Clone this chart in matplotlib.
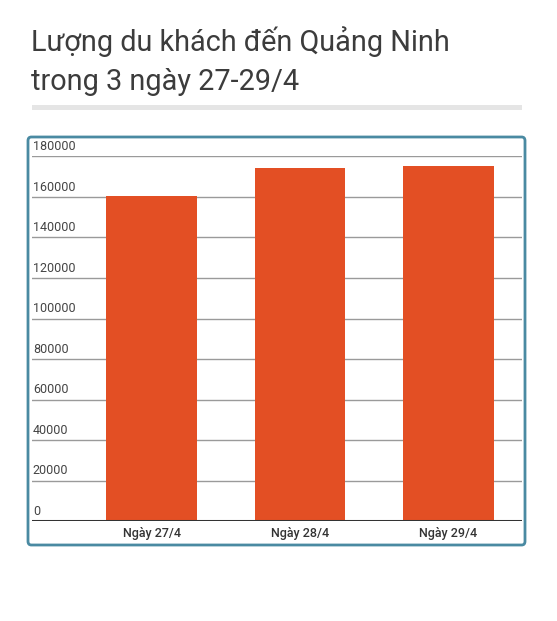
import matplotlib
matplotlib.use("Agg")
import matplotlib.pyplot as plt
from matplotlib.patches import FancyBboxPatch, Rectangle

# data
categories = ["Ngày 27/4", "Ngày 28/4", "Ngày 29/4"]
visitors = [160300, 174000, 175100]
y_ticks = [0, 20000, 40000, 60000, 80000, 100000, 120000, 140000, 160000, 180000]
title_lines = ["Lượng du khách đến Quảng Ninh", "trong 3 ngày 27-29/4"]

W, H = 557, 621
fig = plt.figure(figsize=(W / 100, H / 100), dpi=100)
fig.patch.set_facecolor("white")


def fx(px):
    return px / W


def fy(py):
    return 1 - py / H


# title
for line, base in zip(title_lines, [51, 90]):
    fig.text(fx(31), fy(base), line, fontsize=20.8, family="Roboto",
             fontweight="normal", color="#3c3c3c", va="baseline")

# grey rule under the title
fig.patches.append(Rectangle((fx(32), fy(110)), fx(522) - fx(32), fy(105) - fy(110),
                             transform=fig.transFigure, facecolor="#e5e5e5",
                             edgecolor="none"))

# rounded frame around the chart
fig.patches.append(FancyBboxPatch((fx(28), fy(545)), fx(525) - fx(28), fy(137) - fy(545),
                                  boxstyle="round,pad=0,rounding_size=0.006",
                                  transform=fig.transFigure, facecolor="none",
                                  edgecolor="#4a8aa2", linewidth=2))

# axes: gridlines span 32..522 px, 0 at y=521, 180000 at y=156
ax = fig.add_axes([fx(32), fy(521.3), fx(522) - fx(32), fy(156.3) - fy(521.3)])
ax.set_facecolor("none")
x = list(range(len(categories)))
ax.bar(x, visitors, width=0.613, color="#e34f24", zorder=2)
ax.set_xlim(-0.806, 2.496)
ax.set_ylim(0, 180000)

for t in y_ticks[1:]:
    ax.axhline(t, color="#9a9a9a", linewidth=1, zorder=1)
    ax.text(-0.8, t + 1600, str(t), fontsize=9, family="Roboto",
            color="#444444", va="bottom", ha="left")
ax.text(-0.8, 1600, "0", fontsize=9, family="Roboto", color="#444444",
        va="bottom", ha="left")
ax.axhline(0, color="#333333", linewidth=2.2, zorder=3)

for xi, lab in zip(x, categories):
    ax.text(xi, -2800, lab, fontsize=9, family="Roboto", fontweight="medium",
            color="#333333", ha="center", va="top")

for s in ax.spines.values():
    s.set_visible(False)
ax.set_xticks([])
ax.set_yticks([])

fig.savefig("out.png", dpi=100)
